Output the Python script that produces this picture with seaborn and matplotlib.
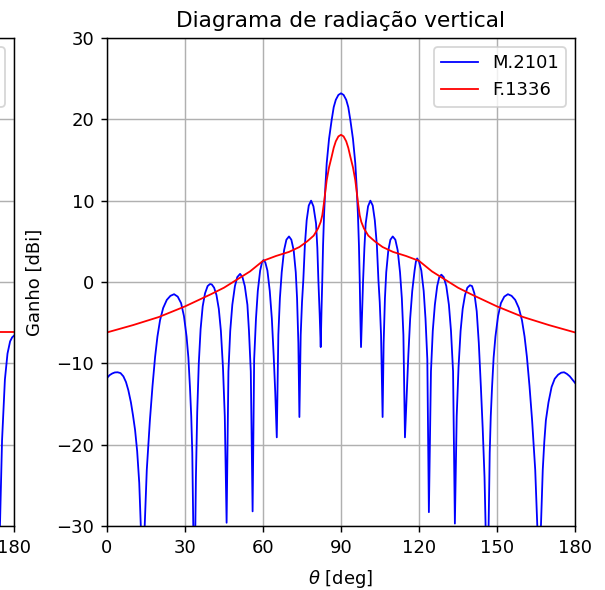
import matplotlib
matplotlib.use('Agg')
import matplotlib.pyplot as plt
import pandas as pd
import seaborn as sns

# vertical pattern (deg, dBi); one lobe per line
theta_m = [0, 1.0, 2.0, 3.0, 4.1, 5.2, 6.3, 7.3, 8.2, 9.2, 10.0, 10.8, 11.6, 12.4, 13.0,
           13.6, 14.5, 15.3, 16.0, 16.5, 17.5, 18.5, 19.4, 20.4, 21.6, 23.0, 24.4, 25.8, 27.2, 28.5, 29.6, 30.6, 31.3, 31.9, 32.4, 32.8,
           33.6, 34.2, 34.7, 35.3, 36.0, 36.8, 37.7, 38.7, 39.6, 40.3, 41.2, 42.1, 43.0, 43.8, 44.6, 45.3,
           46.0, 46.7, 47.4, 48.2, 49.2, 50.1, 51.2, 52.1, 53.0, 54.0, 54.6, 55.3,
           56.0, 56.6, 57.3, 58.0, 58.9, 59.6, 60.2, 60.9, 61.7, 62.6, 63.4, 64.1, 64.7,
           65.3, 65.9, 66.5, 67.2, 68.1, 69.0, 70.0, 70.9, 71.8, 72.6, 73.1, 73.6,
           74.0, 74.5, 75.0, 75.5, 76.1, 76.8, 77.6, 78.5, 79.4, 80.4, 80.9, 81.3, 81.8,
           82.2, 82.5, 82.8, 83.1, 83.5, 84.0, 84.5, 85.4, 86.4, 87.2, 88.0, 89.0, 90.0,
           91.0, 92.0, 92.8, 93.6, 94.6, 95.5, 96.0, 96.5, 96.9, 97.2, 97.4,
           97.7, 98.1, 98.5, 99.0, 99.5, 100.4, 101.3, 102.2, 103.0, 103.8, 104.4, 104.9, 105.4,
           106.0, 106.4, 106.9, 107.4, 108.2, 109.0, 109.9, 110.9, 111.8, 112.7, 113.4, 114.0,
           114.6, 115.3, 115.9, 116.6, 117.4, 118.3, 118.8, 119.3, 120.0, 120.9, 121.8, 122.5, 123.2,
           123.8, 124.6, 125.3, 126.1, 127.0, 127.8, 128.6, 129.5, 130.5, 131.5, 132.3, 133.1,
           133.8, 134.5, 135.2, 136.0, 136.8, 137.7, 138.6, 139.6, 140.4, 141.3, 142.2, 143.0, 143.8, 144.5, 145.2,
           146.3, 147.2, 147.6, 148.1, 148.7, 149.4, 150.4, 151.5, 152.8, 154.2, 155.6, 157.0, 158.4, 159.6, 160.6, 161.5, 162.5, 163.5, 164.7, 165.5,
           166.3, 166.9, 167.6, 168.2, 168.8, 169.8, 171.0, 172.2, 173.5, 174.7, 175.8, 176.9, 178.0, 179.0, 180.0]
gain_m2101 = [-11.8, -11.45, -11.25, -11.12, -11.1, -11.2, -11.6, -12.3, -13.3, -14.8, -16.4, -18.2, -20.8, -24.7, -30,
              -40, -30, -23.1, -19.5, -17.0, -12.8, -9.2, -6.7, -4.7, -3.2, -2.2, -1.7, -1.5, -1.8, -2.6, -4.2, -6.7, -9.3, -12.9, -16.5, -21.0,
              -40, -24, -16, -10, -5.8, -3.0, -1.4, -0.5, -0.25, -0.3, -0.7, -1.6, -3.3, -6.0, -10.5, -16.5,
              -29.6, -11, -6, -2.8, -0.5, 0.6, 1.0, 0.6, -0.5, -2.8, -6, -11,
              -28.2, -9.5, -4.5, -1.1, 1.4, 2.4, 2.7, 2.4, 1.4, -1.1, -4.5, -9, -13.5,
              -19.1, -6.5, -2.0, 1.2, 3.9, 5.2, 5.6, 5.2, 3.9, 1.2, -2.0, -7.5,
              -16.6, -6.5, -2.5, 0.2, 4.5, 7.6, 9.4, 10.0, 9.3, 7.2, 4.2, 0.2, -4.0,
              -8.0, -3.5, 0.2, 4.5, 8.4, 11.8, 14.6, 17.6, 19.9, 21.5, 22.4, 23.0, 23.2,
              23.0, 22.4, 21.5, 19.9, 17.6, 14.6, 11.8, 8.4, 4.5, 0.2, -3.5,
              -8.0, -4.0, 0.2, 4.2, 7.2, 9.3, 10.0, 9.4, 7.6, 4.5, 0.2, -2.5, -6.5,
              -16.6, -7.5, -2.0, 1.2, 3.9, 5.2, 5.6, 5.2, 3.9, 1.2, -2.0, -6.5,
              -19.1, -13.5, -9.0, -4.5, -1.1, 1.4, 2.5, 2.9, 2.5, 1.4, -1.1, -4.5, -9.5,
              -28.3, -11, -6, -2.8, -0.5, 0.6, 0.9, 0.6, -0.5, -2.8, -6, -11,
              -29.7, -16.5, -10.5, -6.0, -3.3, -1.6, -0.7, -0.4, -0.5, -1.4, -3.6, -7.5, -12.9, -18, -24,
              -40, -21, -16.5, -12.9, -9.3, -6.7, -4.2, -2.6, -1.8, -1.5, -1.7, -2.2, -3.2, -4.7, -6.7, -9.2, -12.8, -17.0, -23.1, -30,
              -40, -30, -23.1, -19.6, -17.0, -14.8, -12.9, -11.9, -11.4, -11.15, -11.1, -11.3, -11.6, -12.0, -12.4]

theta_f = [0, 10, 20, 30, 40, 45, 50, 55, 60, 65, 70, 74, 77, 79.5, 81.2, 82.2, 82.8,
           83.4, 84.0, 84.5, 85.4, 86.4, 87.2, 88.0, 89.0, 90,
           91.0, 92.0, 92.8, 93.6, 94.6, 95.5, 96.0, 96.6, 97.2, 97.8, 98.8, 100.5,
           103, 106, 110, 115, 120, 125, 130, 135, 140, 150, 160, 170, 180]
gain_f1336 = [-6.2, -5.3, -4.3, -3.0, -1.5, -0.7, 0.3, 1.3, 2.6, 3.2, 3.7, 4.3, 5.0, 5.7, 6.6, 7.4, 8.2,
              9.6, 11.2, 12.5, 14.1, 15.4, 16.5, 17.3, 17.9, 18.1,
              17.9, 17.3, 16.5, 15.4, 14.1, 12.5, 11.2, 9.6, 8.2, 7.4, 6.6, 5.7,
              5.0, 4.3, 3.7, 3.2, 2.6, 1.3, 0.3, -0.7, -1.5, -3.0, -4.3, -5.3, -6.2]

# horizontal pattern (only its right edge shows in the picture)
theta_h = [170, 173.5, 174.6, 175.4, 176.5, 177.5, 178.5, 179.3, 180]
m2101_h = [-45, -45, -30, -19.5, -12.0, -8.8, -7.3, -6.8, -6.6]
f1336_h = [-6.2, -6.2, -6.2, -6.2, -6.2, -6.2, -6.2, -6.2, -6.2]

dpi = 130
fig = plt.figure(figsize=(605 / dpi, 590 / dpi), dpi=dpi)

bottom, height = 64 / 590, 488 / 590
ax_h = fig.add_axes([(14 - 468) / 605, bottom, 468 / 605, height])
ax = fig.add_axes([107 / 605, bottom, 468 / 605, height])

sns.lineplot(x=theta_h, y=m2101_h, color='b', lw=1.0, label='M.2101', ax=ax_h)
sns.lineplot(x=theta_h, y=f1336_h, color='r', lw=1.0, label='F.1336', ax=ax_h)

df_m = pd.DataFrame({'theta': theta_m, 'gain': gain_m2101})
df_f = pd.DataFrame({'theta': theta_f, 'gain': gain_f1336})
sns.lineplot(data=df_m, x='theta', y='gain', color='b', lw=1.0, label='M.2101', ax=ax)
sns.lineplot(data=df_f, x='theta', y='gain', color='r', lw=1.0, label='F.1336', ax=ax)

for a in (ax_h, ax):
    a.set_xlim(0, 180)
    a.set_ylim(-30, 30)
    a.set_xticks(range(0, 181, 30))
    a.set_yticks(range(-30, 31, 10))
    a.grid(True)
    a.legend(loc='upper right')
    a.set_xlabel('')
    a.set_ylabel('')

# left panel is cut off by the crop: only its last tick label shows
ax_h.set_xticklabels([''] * 6 + ['180'])
ax_h.tick_params(axis='y', labelleft=False)

ax.set_title('Diagrama de radiação vertical')
ax.set_xlabel(r'$\theta$ [deg]')
ax.set_ylabel('Ganho [dBi]')
ax.yaxis.set_label_coords(-0.135, 0.5)
ax.xaxis.set_label_coords(0.5, -0.086)

fig.savefig('out.png', dpi=dpi)
